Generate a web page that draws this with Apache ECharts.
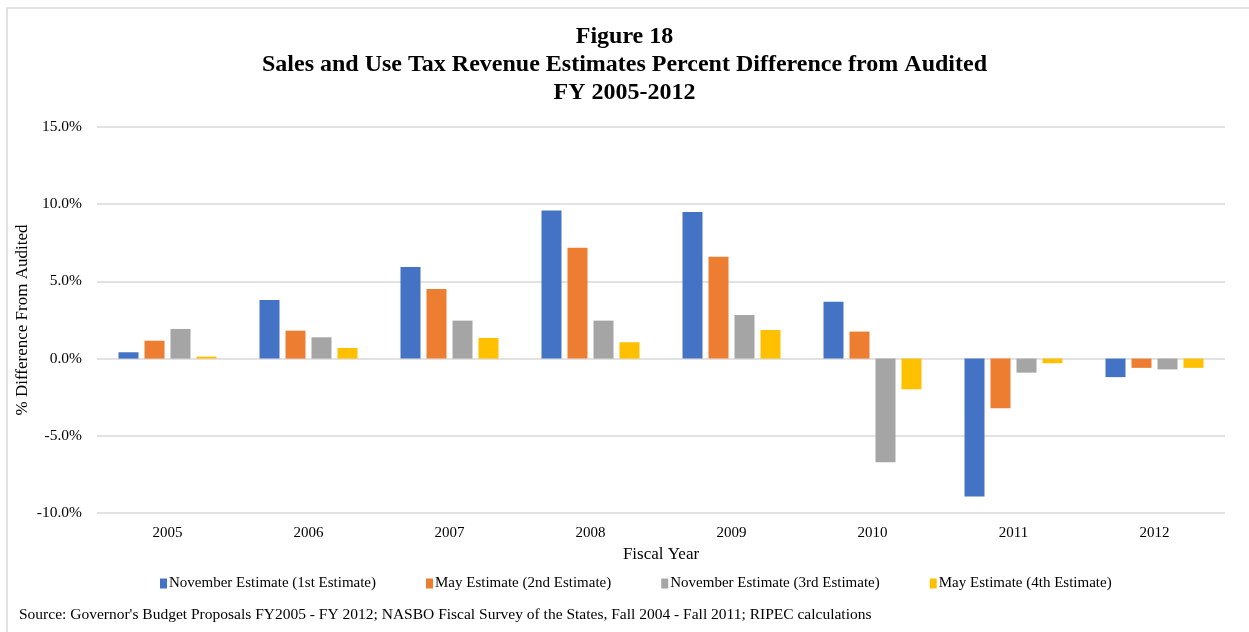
<!DOCTYPE html>
<html lang="en">
<head>
    <meta charset="UTF-8">
    <title>Figure 18</title>
    <script type="text/javascript" src="https://cdn.jsdelivr.net/npm/echarts@6/dist/echarts.min.js"></script>
    <style>
        html, body { margin: 0; padding: 0; background: #fff; }
        #chart { width: 1249px; height: 632px; }
    </style>
</head>
<body>
<div id="chart"></div>
<script type="text/javascript">
    // data
    var years = ['2005', '2006', '2007', '2008', '2009', '2010', '2011', '2012'];
    var seriesNames = ['November Estimate (1st Estimate)', 'May Estimate (2nd Estimate)',
        'November Estimate (3rd Estimate)', 'May Estimate (4th Estimate)'];
    var nov1 = [0.41, 3.80, 5.93, 9.59, 9.49, 3.69, -8.93, -1.20];
    var may2 = [1.16, 1.81, 4.51, 7.18, 6.60, 1.75, -3.22, -0.60];
    var nov3 = [1.92, 1.38, 2.46, 2.46, 2.83, -6.71, -0.91, -0.70];
    var may4 = [0.13, 0.69, 1.34, 1.06, 1.85, -1.99, -0.30, -0.60];
    var colors = ['#4472C4', '#ED7D31', '#A5A5A5', '#FFC000'];

    var serif = '"Liberation Serif", "Times New Roman", serif';
    var chart = echarts.init(document.getElementById('chart'));

    var allData = [nov1, may2, nov3, may4];
    var series = [];
    for (var i = 0; i < allData.length; i++) {
        series.push({
            name: seriesNames[i],
            type: 'bar',
            data: allData[i],
            barWidth: 20,
            barGap: '30%',
            itemStyle: { color: colors[i] }
        });
    }

    chart.setOption({
        backgroundColor: '#fff',
        animation: false,
        color: colors,
        graphic: [{
            type: 'rect',
            shape: { x: 7, y: 8, width: 1300, height: 700 },
            style: { fill: 'none', stroke: '#d9d9d9', lineWidth: 1.5 }
        }, {
            type: 'text',
            left: 19, top: 607,
            style: {
                text: "Source: Governor's Budget Proposals FY2005 - FY 2012; NASBO Fiscal Survey of the States, Fall 2004 - Fall 2011; RIPEC calculations",
                font: '15.5px ' + serif,
                fill: '#000'
            }
        }],
        title: {
            text: 'Figure 18\nSales and Use Tax Revenue Estimates Percent Difference from Audited\nFY 2005-2012',
            left: 'center',
            top: 18,
            textStyle: {
                fontFamily: serif,
                fontWeight: 'bold',
                fontSize: 24,
                lineHeight: 28,
                color: '#000'
            }
        },
        legend: {
            data: seriesNames,
            top: 571,
            left: 155,
            itemWidth: 7,
            itemHeight: 10,
            itemGap: 50,
            icon: 'rect',
            textStyle: { fontFamily: serif, fontSize: 15, color: '#000', padding: [0, 0, 0, -3] }
        },
        grid: { left: 97, right: 24, top: 127, bottom: 119 },
        xAxis: {
            type: 'category',
            data: years,
            name: 'Fiscal Year',
            nameLocation: 'middle',
            nameGap: 33,
            nameTextStyle: { fontFamily: serif, fontSize: 17, color: '#000' },
            axisLine: { show: false },
            axisTick: { show: false },
            axisLabel: { fontFamily: serif, fontSize: 15, color: '#000', margin: 13 }
        },
        yAxis: {
            type: 'value',
            min: -10,
            max: 15,
            interval: 5,
            name: '% Difference From Audited',
            nameLocation: 'middle',
            nameGap: 66,
            nameMoveOverlap: false,
            nameTextStyle: { fontFamily: serif, fontSize: 17, color: '#000' },
            axisLine: { show: false },
            axisTick: { show: false },
            splitLine: { lineStyle: { color: '#d9d9d9', width: 1.5 } },
            axisLabel: {
                fontFamily: serif, fontSize: 15.5, color: '#000', margin: 15,
                formatter: function (v) { return v.toFixed(1) + '%'; }
            }
        },
        series: series
    });
</script>
</body>
</html>
